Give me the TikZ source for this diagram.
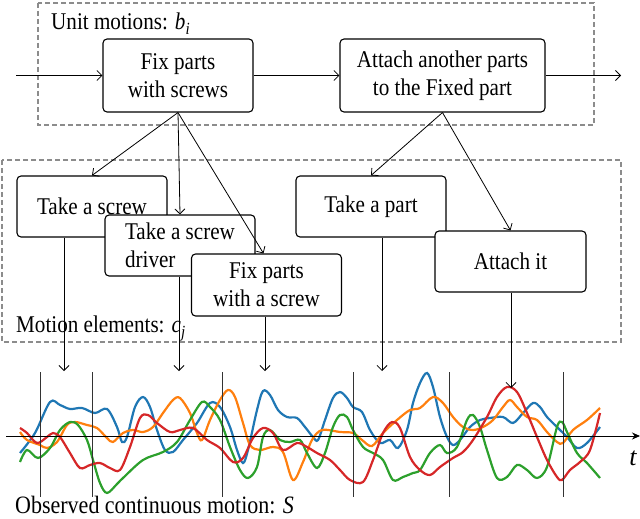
\documentclass[tikz,border=0pt]{standalone}
\usepackage{fontspec}
\setmainfont{Liberation Serif}
\newfontfamily\cfont{Liberation Serif}[FakeStretch=0.88]
\usetikzlibrary{arrows.meta,calc}
\definecolor{cblue}{HTML}{1F77B4}
\definecolor{corange}{HTML}{FF7F0E}
\definecolor{cgreen}{HTML}{2CA02C}
\definecolor{cred}{HTML}{D62728}
\definecolor{dgray}{HTML}{8C8C8C}
\begin{document}
\begin{tikzpicture}[x=1pt,y=-1pt,
  box/.style={draw,rounded corners=4pt,fill=white,line width=1.1pt,inner sep=0pt,
    font=\cfont\fontsize{24}{28}\selectfont,align=center},
  lbl/.style={font=\cfont\fontsize{24}{28}\selectfont,inner sep=0pt},
  grp/.style={draw=dgray,dashed,dash pattern=on 5pt off 3pt,line width=1.1pt},
  conn/.style={line width=0.8pt,-{Straight Barb[length=5pt,width=10pt]}},
  sig/.style={line width=2.2pt,smooth,tension=0.55},
  sep/.style={line width=0.8pt,draw=black!80}]
\useasboundingbox (0,0) rectangle (640,519);
% groups
\draw[grp] (38,3) rectangle (594,125);
\draw[grp] (2,160) rectangle (621,342);
\node[lbl,anchor=base west] (ulab) at (51,30) {Unit motions: \textit{b}\raisebox{-5pt}{\fontsize{17}{17}\selectfont\textit{i}}};
\node[lbl,anchor=base west] (mlab) at (16,332) {Motion elements: \textit{c}\raisebox{-5pt}{\fontsize{17}{17}\selectfont\textit{j}}};
% unit motions
\node[box,minimum width=150pt,minimum height=73pt] (A) at (178,75.5) {Fix parts\\with screws};
\node[box,minimum width=205pt,minimum height=73pt] (B) at (442.5,75.5) {Attach another parts\\to the Fixed part};
\coordinate (in) at (16,75.5);
\coordinate (out) at (621,75.5);
\draw[conn] (in) -- (A.west);
\draw[conn] (A.east) -- (B.west);
\draw[conn] (B.east) -- (out);
% motion elements
\node[box,minimum width=150pt,minimum height=61pt] (TS) at (92,206.5) {Take a screw};
\node[box,minimum width=150pt,minimum height=61pt,align=left] (TD) at (180,245.5) {Take a screw\\driver};
\node[box,minimum width=150pt,minimum height=62pt] (TF) at (266.5,285) {Fix parts\\with a screw};
\node[box,minimum width=150pt,minimum height=61pt] (TP) at (371,206.5) {Take a part};
\node[box,minimum width=151pt,minimum height=61pt] (AI) at (510.5,261.5) {Attach it};
\draw[conn] (A.south) -- (TS.north);
\draw[conn] (A.south) -- (TD.north);
\draw[conn] (A.south) -- ($(TF.north)+(-3,0)$);
\draw[conn] (B.south) -- (TP.north);
\draw[conn] (B.south) -- (AI.north);
% signals
\draw[sig,cblue] plot coordinates {(20,453) (35,433) (50,402) (60,405) (70,409) (82,408) (95,413) (107,409) (117,427) (122,442) (127,437) (135,407) (143,397) (150,407) (157,430) (165,450) (173,452) (183,440) (197,423) (210,403) (220,407) (230,427) (237,450) (243,463) (248,450) (257,410) (263,391) (270,395) (278,410) (287,417) (297,418) (305,427) (313,437) (318,440) (325,420) (333,398) (340,392) (347,398) (353,407) (362,412) (370,430) (380,443) (390,440) (398,448) (407,430) (413,403) (420,383) (427,373) (433,387) (440,417) (447,437) (453,445) (460,440) (470,427) (480,420) (490,418) (503,417) (513,423) (523,413) (533,403) (540,407) (547,417) (557,427) (567,437) (577,448) (587,443) (600,427)};
\draw[sig,corange] plot coordinates {(20,432) (27,440) (40,445) (47,448) (57,442) (67,425) (75,422) (87,425) (97,428) (107,438) (113,442) (123,433) (133,430) (143,432) (153,427) (163,413) (173,400) (180,398) (190,413) (197,433) (202,440) (210,420) (220,400) (228,390) (235,397) (243,423) (250,445) (260,450) (273,447) (283,452) (293,480) (303,462) (312,440) (322,430) (340,432) (353,433) (362,440) (372,446) (383,433) (397,420) (410,410) (420,408) (433,397) (443,403) (453,417) (463,427) (473,430) (483,427) (493,420) (503,407) (510,400) (517,407) (527,417) (537,420) (547,432) (557,442) (563,443) (573,430) (587,420) (600,408)};
\draw[sig,cgreen] plot coordinates {(20,462) (27,450) (38,458) (50,448) (60,430) (70,422) (78,425) (87,440) (93,460) (100,483) (107,493) (117,484) (123,478) (143,460) (163,452) (177,442) (190,420) (202,402) (210,407) (220,420) (230,447) (240,470) (248,478) (257,467) (263,437) (270,430) (280,440) (290,442) (300,440) (307,453) (317,468) (325,453) (333,427) (340,415) (347,417) (353,430) (363,447) (373,453) (383,460) (393,480) (403,477) (413,473) (420,470) (430,453) (440,445) (447,453) (457,447) (467,420) (473,415) (480,427) (487,450) (497,478) (507,477) (517,465) (527,470) (537,478) (547,467) (557,427) (562,422) (567,432) (577,453) (587,463) (600,478)};
\draw[sig,cred] plot coordinates {(20,428) (27,433) (37,443) (47,437) (53,433) (60,437) (70,453) (80,468) (90,465) (100,463) (110,468) (120,470) (130,447) (140,418) (148,415) (157,423) (170,432) (180,430) (193,428) (207,440) (220,448) (233,462) (243,458) (253,438) (263,428) (273,433) (283,450) (297,443) (307,447) (317,453) (330,460) (340,470) (350,480) (363,482) (373,460) (383,433) (392,422) (400,428) (410,457) (420,470) (430,475) (440,467) (453,458) (463,452) (473,440) (487,417) (497,397) (507,387) (517,392) (527,413) (537,437) (547,460) (557,477) (562,480) (570,470) (580,462) (590,450) (600,413)};
% separators and axis
\foreach \x in {40,92,222,353,449,563} \draw[sep] (\x,372) -- (\x,497);
\coordinate (ax0) at (6,436);
\coordinate (ax1) at (640,436);
\draw[line width=0.9pt,-{Stealth[length=8pt,width=7pt]}] (ax0) -- (ax1);
\node[font=\fontsize{26}{26}\selectfont\itshape,inner sep=0pt] (tlab) at (633,458) {t};
% down arrows
\coordinate (e1) at (64,371);
\coordinate (e2) at (179,371);
\coordinate (e3) at (265,371);
\coordinate (e4) at (382,371);
\coordinate (e5) at (511,388);
\draw[conn] (TS.south -| e1) -- (e1);
\draw[conn] (TD.south -| e2) -- (e2);
\draw[conn] (TF.south -| e3) -- (e3);
\draw[conn] (TP.south -| e4) -- (e4);
\draw[conn] (AI.south -| e5) -- (e5);
\node[anchor=base west,inner sep=0pt,font=\cfont\fontsize{25}{28}\selectfont] (olab) at (15,513) {Observed continuous motion: \textit{S}};
\end{tikzpicture}
\end{document}
